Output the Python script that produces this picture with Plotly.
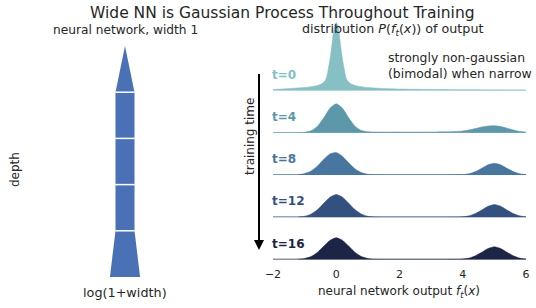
import numpy as np
import plotly.graph_objects as go

W, H = 536, 308
FONT = "DejaVu Sans"
TXT = "#262626"
BLUE = "#4a71b5"

# ---------------- data ----------------
row_labels = ["t=0", "t=4", "t=8", "t=12", "t=16"]
row_colors = ["#86c0c5", "#5d98aa", "#48769f", "#33507e", "#1c2545"]

x_t0 = [-2.0, -1.5, -1.0, -0.8, -0.6, -0.45, -0.35, -0.3, -0.25, -0.2, -0.16, -0.12, -0.08, -0.04,
        0.0, 0.04, 0.08, 0.12, 0.16, 0.2, 0.25, 0.3, 0.35, 0.45, 0.6, 0.8, 1.0, 1.5, 2.0, 3.0, 4.0, 5.0, 6.0]
dens_t0 = [1.0, 2.0, 3.0, 3.8, 5.0, 7.0, 10.0, 14.0, 22.0, 31.0, 40.0, 50.0, 60.0, 66.0,
           68.0, 66.0, 60.0, 50.0, 40.0, 31.0, 22.0, 14.0, 10.0, 7.0, 5.0, 3.8, 3.0, 2.0, 1.5, 1.0, 0.8, 0.6, 0.5]

x_grid = [-1.2, -1.0, -0.8, -0.6, -0.4, -0.2, 0.0, 0.2, 0.4, 0.6, 0.8, 1.0, 1.2, 1.6, 2.0, 2.5,
          3.0, 3.5, 3.8, 4.0, 4.2, 4.4, 4.6, 4.8, 5.0, 5.2, 5.4, 5.6, 5.8, 6.0]
dens_t4 = [0.0, 0.5, 1.9, 6.3, 14.7, 24.5, 29.0, 24.5, 14.7, 6.3, 2.2, 1.1, 0.8, 0.7, 0.7, 0.7,
           0.8, 1.0, 1.3, 1.8, 2.8, 4.2, 5.8, 6.8, 7.0, 6.2, 4.6, 2.8, 1.4, 0.6]
dens_t8 = [0.4, 1.4, 3.9, 8.8, 15.5, 21.1, 22.5, 18.6, 12.1, 6.1, 2.4, 0.7, 0.2, 0.1, 0.1, 0.1,
           0.1, 0.1, 0.2, 0.4, 1.3, 3.4, 6.7, 10.2, 11.7, 10.2, 6.7, 3.4, 1.3, 0.4]
dens_t12 = [0.3, 1.0, 3.1, 7.4, 13.8, 20.0, 22.7, 20.0, 13.8, 7.4, 3.1, 1.0, 0.3, 0.1, 0.1, 0.1,
            0.1, 0.1, 0.2, 0.4, 1.4, 3.7, 7.2, 11.0, 12.7, 11.0, 7.2, 3.7, 1.4, 0.4]
dens_t16 = [0.2, 1.0, 2.9, 7.0, 13.2, 19.1, 21.7, 19.1, 13.2, 7.0, 2.9, 1.0, 0.2, 0.1, 0.1, 0.1,
            0.1, 0.1, 0.2, 0.4, 1.4, 3.7, 7.2, 11.0, 12.7, 11.0, 7.2, 3.7, 1.4, 0.4]

x_range = [-2, 6]
x_ticks = [-2, 0, 2, 4, 6]

depth_levels = [0, 1, 2, 3, 4, 5]
layer_width = [2, 1, 1, 1, 1, 0]

rows_x = [x_t0, x_grid, x_grid, x_grid, x_grid]
rows_d = [dens_t0, dens_t4, dens_t8, dens_t12, dens_t16]

# ---------------- figure ----------------
def fx(p):
    return p / W

def fy(p):
    return 1 - p / H

fig = go.Figure()

# left panel: network shape
wlog = np.log1p(np.array(layer_width, dtype=float))
for i in range(len(depth_levels) - 1):
    a, b = wlog[i] / 2, wlog[i + 1] / 2
    d0, d1 = depth_levels[i], depth_levels[i + 1]
    fig.add_trace(go.Scatter(x=[-a, a, b, -b, -a], y=[d0, d0, d1, d1, d0], mode="lines",
                             fill="toself", fillcolor=BLUE, line=dict(width=0, color=BLUE),
                             xaxis="x", yaxis="y", hoverinfo="skip"))
for i in range(1, len(depth_levels) - 1):
    a = wlog[i] / 2
    fig.add_trace(go.Scatter(x=[-a * 1.02, a * 1.02], y=[depth_levels[i]] * 2, mode="lines",
                             line=dict(color="white", width=1.5), xaxis="x", yaxis="y", hoverinfo="skip"))

# right panel: ridgelines
ROW_GAP = 42.25
BASE_BOTTOM = 259.5
TOP = 4
n = len(row_labels)
annotations = []
for i in range(n):
    base_px = BASE_BOTTOM - (n - 1 - i) * ROW_GAP
    ya = f"y{i + 2}"
    fig.add_trace(go.Scatter(x=rows_x[i], y=rows_d[i], mode="lines", fill="tozeroy",
                             fillcolor=row_colors[i], line=dict(color=row_colors[i], width=0.5,
                                                                shape="spline", smoothing=0.6),
                             xaxis="x2", yaxis=ya, hoverinfo="skip"))
    fig.add_trace(go.Scatter(x=x_range, y=[0, 0], mode="lines",
                             line=dict(color=row_colors[i], width=1.5),
                             xaxis="x2", yaxis=ya, hoverinfo="skip", cliponaxis=False))
    fig.layout[f"yaxis{i + 2}"] = dict(domain=[fy(base_px), fy(TOP)], range=[0, base_px - TOP],
                                       anchor="x2", visible=False, fixedrange=True, automargin=False)
    annotations.append(dict(xref="x2", yref=ya, x=x_range[0], y=16, xshift=-3,
                            text=f"<b>{row_labels[i]}</b>",
                            showarrow=False, xanchor="left", yanchor="middle",
                            font=dict(family=FONT, size=12, color=row_colors[i])))

fig.update_layout(
    template="none",
    width=W, height=H, margin=dict(l=0, r=0, t=0, b=0, pad=0, autoexpand=False),
    paper_bgcolor="white", plot_bgcolor="rgba(0,0,0,0)", showlegend=False,
    font=dict(family=FONT, color=TXT, size=12),
    xaxis=dict(domain=[fx(60), fx(190)], range=[-2.37, 2.37], visible=False, automargin=False),
    yaxis=dict(domain=[fy(277), fy(46)], range=[0, 5], visible=False, automargin=False),
    xaxis2=dict(domain=[fx(273), fx(526)], range=x_range, anchor="y6", tickvals=x_ticks,
                showgrid=False, zeroline=False, showline=False, ticks="outside", ticklen=4,
                tickcolor="rgba(0,0,0,0)", automargin=False,
                tickfont=dict(family=FONT, size=11, color=TXT)),
)

texts = [
    ("Wide NN is Gaussian Process Throughout Training", 282, 13, 15.5, "center", 0),
    ("neural network, width 1", 125, 30, 12.2, "center", 0),
    ("distribution <i>P</i>(<i>f</i><sub><i>t</i></sub>(<i>x</i>)) of output", 392, 30, 12.7, "center", 0),
    ("strongly non-gaussian<br>(bimodal) when narrow", 386, 65, 12.4, "left", 0),
    ("training time", 250, 137, 12, "center", -90),
    ("depth", 15, 170, 12, "center", -90),
    ("log(1+width)", 125, 292, 12.8, "center", 0),
    ("neural network output <i>f</i><sub><i>t</i></sub>(<i>x</i>)", 399, 292, 12, "center", 0),
]
for t, x, y, s, anc, ang in texts:
    annotations.append(dict(xref="paper", yref="paper", x=fx(x), y=fy(y), text=t, showarrow=False,
                            xanchor=anc, yanchor="middle", align=anc,
                            textangle=ang, font=dict(family=FONT, size=s, color=TXT)))

# arrow head for the "training time" arrow
annotations.append(dict(xref="paper", yref="paper", x=fx(259), y=fy(250), ax=0, ay=-14,
                        text="", showarrow=True, arrowhead=2,
                        arrowsize=1, arrowwidth=2, arrowcolor="black", standoff=0, startstandoff=0))

fig.update_layout(annotations=annotations)
# arrow shaft
fig.add_shape(type="line", xref="paper", yref="paper", x0=fx(259), x1=fx(259), y0=fy(74), y1=fy(245),
              line=dict(color="black", width=2))
fig.write_html("out.html")
